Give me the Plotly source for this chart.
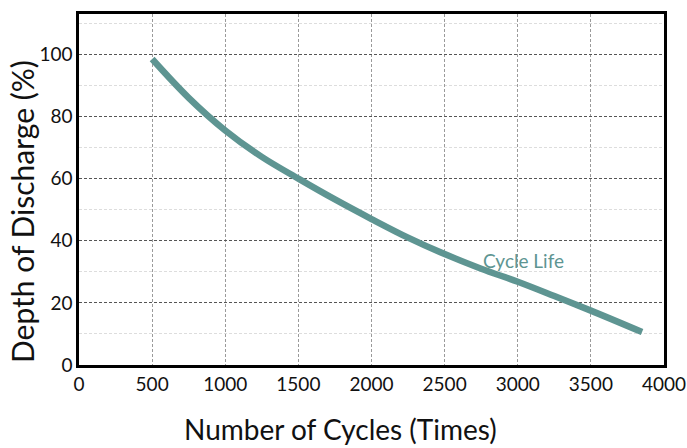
import plotly.graph_objects as go

cycles = [500, 750, 1000, 1250, 1500, 1750, 2000, 2250, 2500, 2750, 3000, 3250, 3500, 3850]
dod = [98.5, 86, 75.5, 67, 60, 53.3, 47, 41, 35.7, 31, 26.8, 22.2, 17.5, 10.6]
x_ticks = [0, 500, 1000, 1500, 2000, 2500, 3000, 3500, 4000]
y_ticks = [0, 20, 40, 60, 80, 100]

teal = "#5e9592"
font = "Lato, 'Open Sans', sans-serif"

W, H = 687, 448
L, R, T, B = 79, 23, 14, 83
pw, ph = W - L - R, H - T - B

fig = go.Figure()
fig.add_trace(go.Scatter(x=cycles, y=dod, mode="lines",
                         line=dict(color=teal, width=6.5, shape="spline", smoothing=1.0),
                         showlegend=False, hoverinfo="skip"))
fig.add_annotation(x=3036, y=33.5, text="Cycle Life", showarrow=False,
                   font=dict(family=font, size=19, color=teal))
fig.add_annotation(x=(340 - L) / pw, y=(H - B - 429) / ph, xref="paper", yref="paper",
                   text="Number of Cycles (Times)", showarrow=False,
                   xanchor="center", yanchor="middle",
                   font=dict(family=font, size=28, color="#111"))
fig.add_annotation(x=(22 - L) / pw, y=(H - B - 212) / ph, xref="paper", yref="paper",
                   text="Depth of Discharge (%)", textangle=-90, showarrow=False,
                   xanchor="center", yanchor="middle",
                   font=dict(family=font, size=30, color="#111"))

fig.update_layout(
    width=W, height=H,
    margin=dict(l=L, r=R, t=T, b=B, autoexpand=False),
    paper_bgcolor="white", plot_bgcolor="white",
    font=dict(family=font, color="#111"),
)

fig.update_xaxes(range=[0, 4000], tickvals=x_ticks, ticks="", ticklen=0, automargin=False,
                 tickfont=dict(size=19), showline=True, mirror=True,
                 linecolor="black", linewidth=2.5,
                 showgrid=True, gridcolor="#9a9a9a", griddash="3px,2px", gridwidth=1,
                 zeroline=False)
fig.update_yaxes(range=[0, 113], tickvals=y_ticks, ticks="", automargin=False,
                 tickfont=dict(size=19), showline=True, mirror=True,
                 linecolor="black", linewidth=2.5,
                 showgrid=True, gridcolor="#555555", griddash="3px,2px", gridwidth=1,
                 minor=dict(dtick=10, tick0=10, showgrid=True, gridcolor="#dddddd",
                            griddash="3px,2px", gridwidth=1),
                 zeroline=False)

fig.write_html("out.html", config={"displayModeBar": False},
               post_script="document.body.style.margin='0';")
